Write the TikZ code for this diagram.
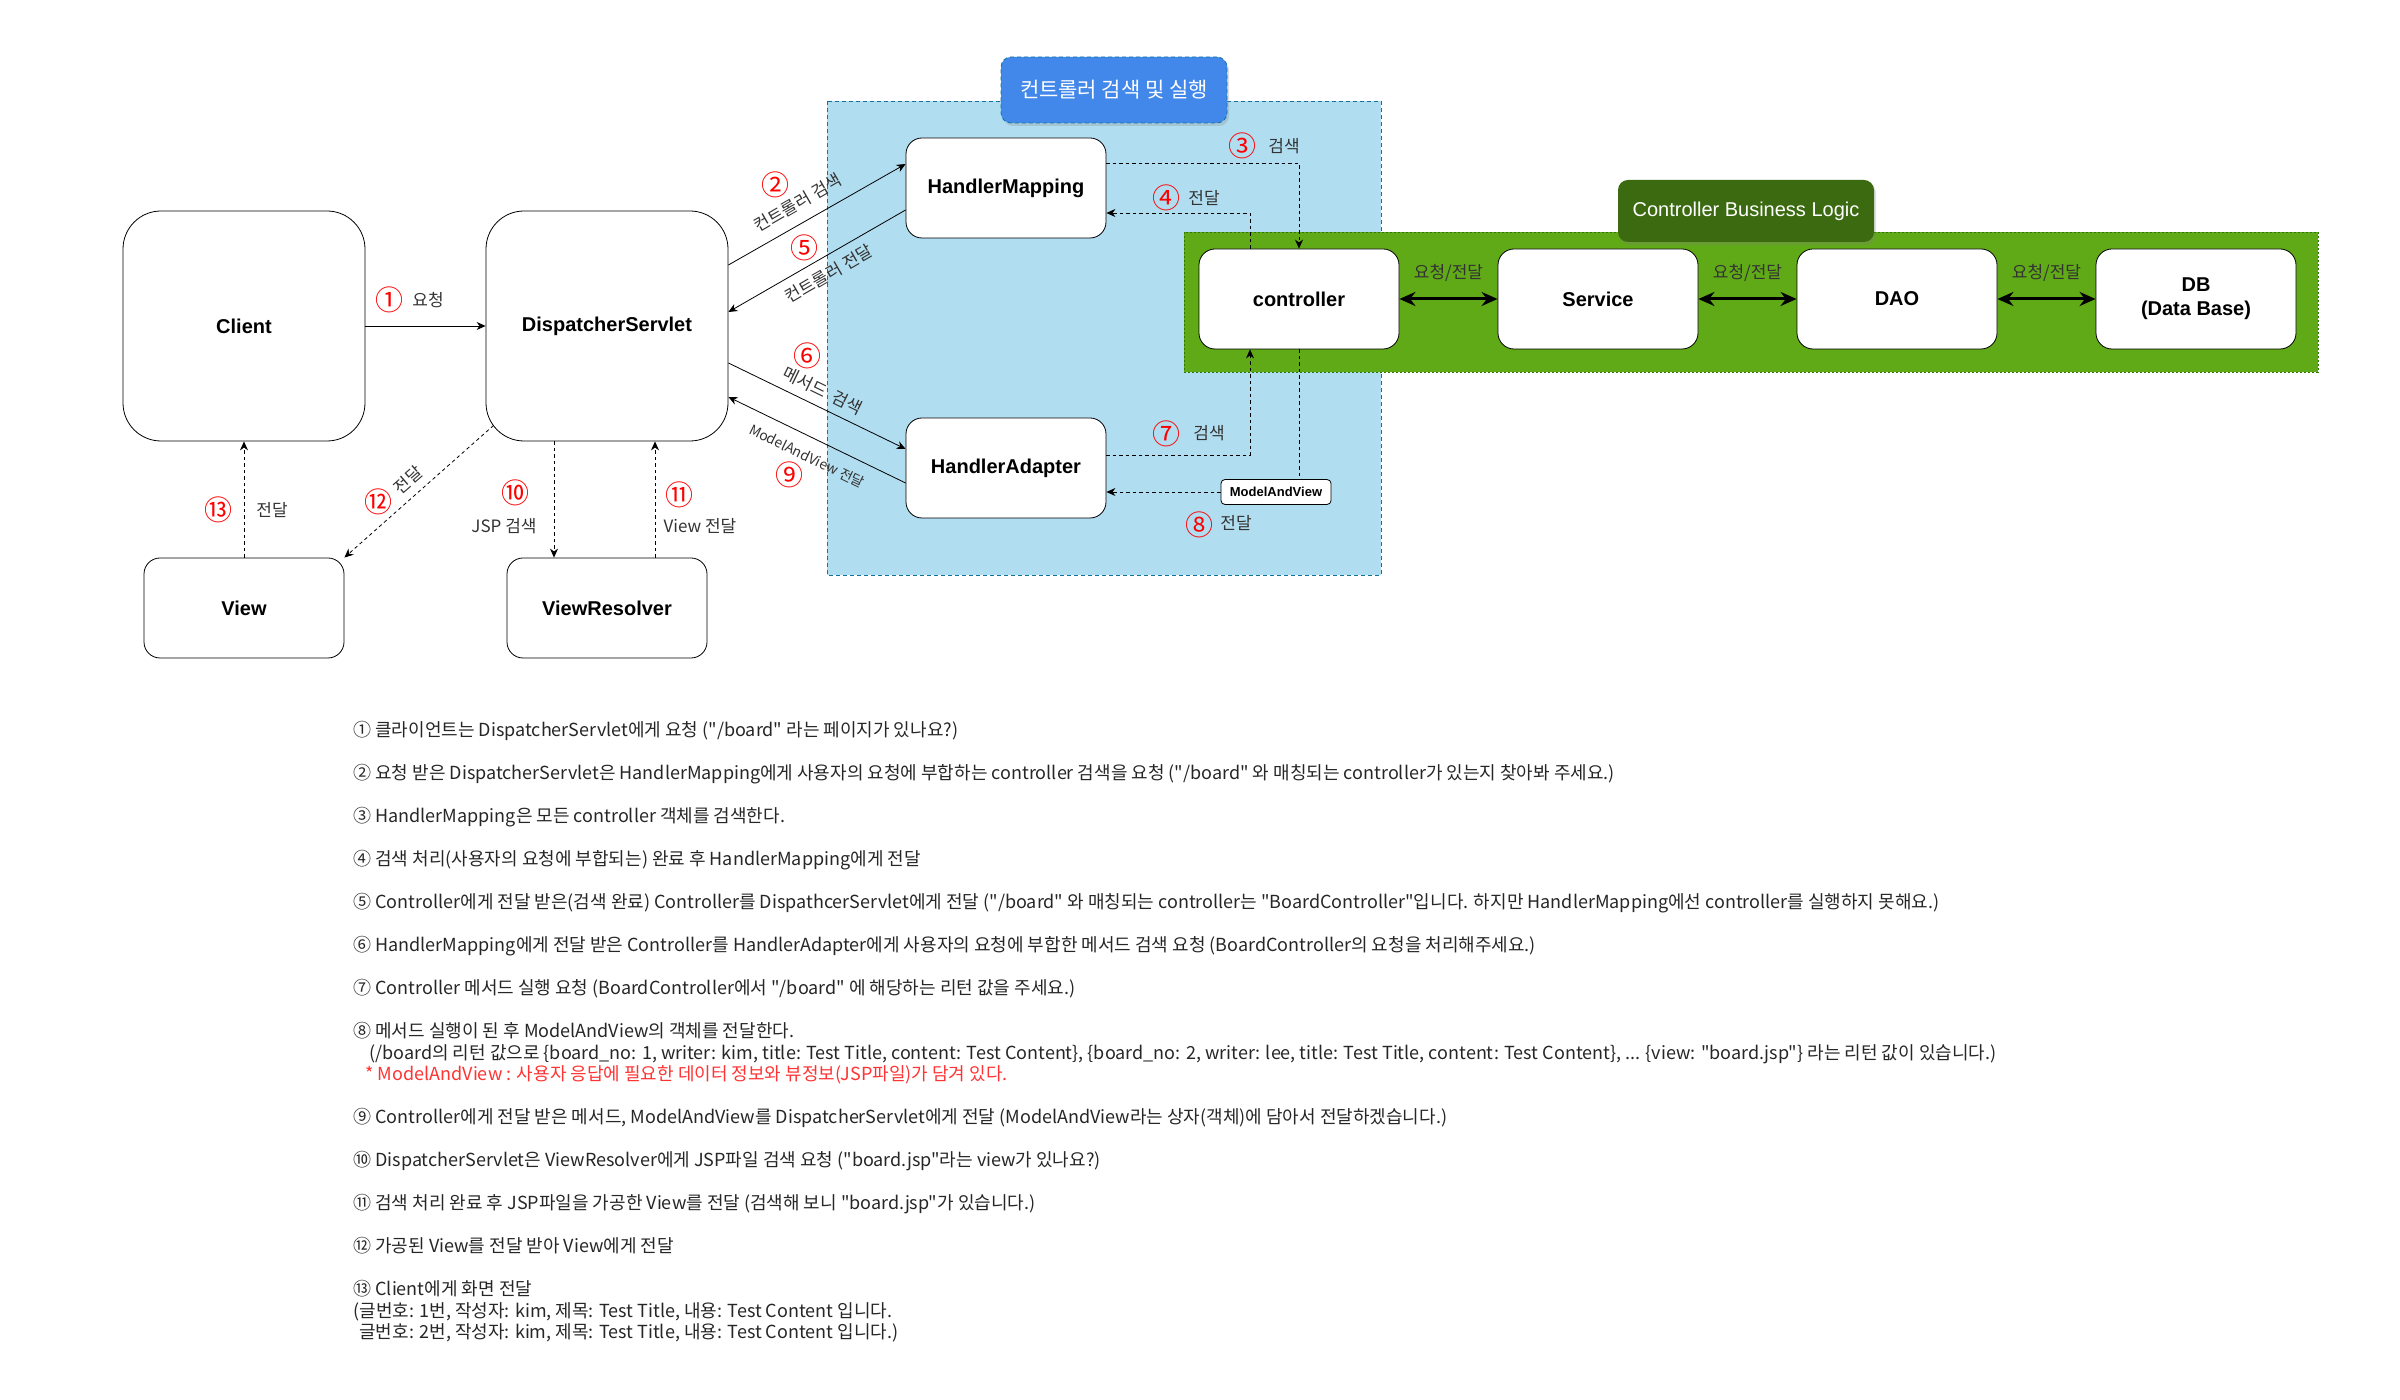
\documentclass[tikz,border=0pt]{standalone}
\usepackage{fontspec}
\setmainfont{Noto Sans CJK KR}[Ligatures=TeXOff]
\newfontfamily\latinfont{Liberation Sans}
\usepackage{tikz}
\usetikzlibrary{positioning,arrows.meta,shadows}

\definecolor{bluebg}{HTML}{B1DDF0}
\definecolor{blueline}{HTML}{10739E}
\definecolor{bluetitle}{HTML}{4288EA}
\definecolor{greenbg}{HTML}{60A917}
\definecolor{greenline}{HTML}{2D7600}
\definecolor{greentitle}{HTML}{3B6A11}
\definecolor{notered}{HTML}{FF3333}

\tikzset{
    state/.style={
           rectangle,
           rounded corners=8pt,
           draw=black, thin,
           fill=white,
           minimum width=100pt,
           minimum height=50pt,
           inner sep=2pt,
           text centered,
           font=\latinfont\bfseries\fontsize{10}{12}\selectfont,
           },
    bigstate/.style={
           state,
           rounded corners=19pt,
           minimum width=121pt,
           minimum height=115pt,
           },
    mavstate/.style={
           state,
           rounded corners=2pt,
           minimum width=55pt,
           minimum height=12.5pt,
           inner sep=1pt,
           font=\latinfont\bfseries\fontsize{6.5}{7}\selectfont,
           },
    areatitle/.style={
           rectangle,
           rounded corners=5pt,
           minimum width=113pt,
           minimum height=33pt,
           text=white,
           font=\fontsize{10.5}{12}\selectfont,
           drop shadow={opacity=0.25, shadow xshift=1pt, shadow yshift=-1.5pt},
           },
    bluearea/.style={fill=bluebg, draw=blueline, thin, dash pattern=on 2pt off 1.5pt},
    greenarea/.style={fill=greenbg, draw=greenline, thin, dash pattern=on 1pt off 1pt},
    num/.style={text=red, inner sep=0pt, font=\fontsize{14}{14}\selectfont},
    tag/.style={text=black!80, inner sep=1pt, font=\fontsize{8.5}{10}\selectfont},
    req/.style={->, thin},
    dotline/.style={thin, dash pattern=on 1.75pt off 1.5pt},
    dotreq/.style={dotline, ->},
    duplex/.style={<->, line width=1.5pt, >={Stealth[length=8pt,width=7pt]}},
    notes/.style={align=left, inner sep=0pt, text=black!85,
           font=\fontsize{9}{10.75}\selectfont},
}

\begin{document}
\begin{tikzpicture}[x=0.5pt, y=-0.5pt, >={Stealth[length=4.5pt,width=4pt]}]
    \useasboundingbox (0,0) rectangle (2400,1400);

    % area: search and run the controller
    \draw[bluearea] (827,101) rectangle (1381,575);
    \node[areatitle, fill=bluetitle, draw=blueline, dash pattern=on 2pt off 1.5pt] (searcharea) at (1114,90) {컨트롤러 검색 및 실행};

    % area: business logic behind the controller
    \draw[greenarea] (1184,232) rectangle (2318,372);
    \node[areatitle, fill=greentitle, minimum width=128pt, minimum height=31pt,
    font=\latinfont\fontsize{10}{12}\selectfont] (logicarea) at (1746,211) {Controller Business Logic};

    % components
    \node[bigstate] (client) at (244,326) {Client};
    \node[bigstate,
    right of=client,
    node distance=181.5pt] (dispatcher) {DispatcherServlet};
    \node[state,
    below of=client,
    node distance=141pt] (view) {View};
    \node[state,
    below of=dispatcher,
    node distance=141pt] (resolver) {ViewResolver};
    \node[state] (mapping) at (1006,188) {HandlerMapping};
    \node[state,
    below of=mapping,
    node distance=140pt] (adapter) {HandlerAdapter};
    \node[state] (controller) at (1299,299) {controller};
    \node[state, right of=controller, node distance=149.5pt] (service) {Service};
    \node[state, right of=service, node distance=149.5pt] (dao) {DAO};
    \node[state, right of=dao, node distance=149.5pt, align=center] (db) {DB\\(Data Base)};
    \node[mavstate] (mav) at (1276,492) {ModelAndView};

    % solid requests and replies
    \path
        (client) edge[req] (dispatcher)
        ([yshift=30.5pt]dispatcher.east) edge[req] ([yshift=12pt]mapping.west)
        ([yshift=-11pt]mapping.west) edge[req] ([yshift=7pt]dispatcher.east)
        ([yshift=-18.5pt]dispatcher.east) edge[req] ([yshift=9.5pt]adapter.west)
        ([yshift=-7.5pt]adapter.west) edge[req] ([yshift=-35.5pt]dispatcher.east)
        (controller) edge[duplex] node[tag, above=7pt] (ask1) {요청/전달} (service)
        (service) edge[duplex] node[tag, above=7pt] (ask2) {요청/전달} (dao)
        (dao) edge[duplex] node[tag, above=7pt] (ask3) {요청/전달} (db)
        ;

    % dashed requests and replies
    \draw[dotreq] ([yshift=12.5pt]mapping.east) -| (controller.north);
    \draw[dotreq] ([xshift=-24.5pt]controller.north) |- ([yshift=-12.5pt]mapping.east);
    \draw[dotreq] ([yshift=6.5pt]adapter.east) -| ([xshift=-24.5pt]controller.south);
    \draw[dotline] (controller.south) -- (controller.south |- mav.north);
    \draw[dotreq] (mav.west) -- (mav.west -| adapter.east);
    \draw[dotreq] ([xshift=-26.5pt]dispatcher.south) -- ([xshift=-26.5pt]resolver.north);
    \draw[dotreq] ([xshift=24pt]resolver.north) -- ([xshift=24pt]dispatcher.south);
    \draw[dotreq] ([xshift=4pt,yshift=8pt]dispatcher.south west) -- (view.north east);
    \draw[dotreq] (view) -- (client);

    % step numbers and texts
    \node[num] (n1) at (389,300) {①};
    \node[tag] (t1) at (428,300) {요청};
    \node[num] (n2) at (775,185) {②};
    \node[tag, rotate=30] (t2) at (798,203) {컨트롤러 검색};
    \node[num] (n3) at (1242,146) {③};
    \node[tag] (t3) at (1284,146) {검색};
    \node[num] (n4) at (1166,198) {④};
    \node[tag] (t4) at (1204,198) {전달};
    \node[num] (n5) at (804,248) {⑤};
    \node[tag, rotate=30] (t5) at (829,274) {컨트롤러 전달};
    \node[num] (n6) at (807,356) {⑥};
    \node[tag, rotate=-26] (t6) at (823,391) {메서드~~검색};
    \node[num] (n7) at (1166,434) {⑦};
    \node[tag] (t7) at (1209,433) {검색};
    \node[num] (n8) at (1199,525) {⑧};
    \node[tag] (t8) at (1236,523) {전달};
    \node[num] (n9) at (789,475) {⑨};
    \node[tag, rotate=-26, font=\fontsize{7}{8}\selectfont] (t9) at (807,456) {ModelAndView 전달};
    \node[num] (n10) at (515,493) {⑩};
    \node[tag] (t10) at (504,526) {JSP 검색};
    \node[num] (n11) at (679,495) {⑪};
    \node[tag] (t11) at (700,526) {View 전달};
    \node[num] (n12) at (378,502) {⑫};
    \node[tag, rotate=41] (t12) at (408,480) {전달};
    \node[num] (n13) at (218,510) {⑬};
    \node[tag] (t13) at (272,510) {전달};

    % explanation of the steps
    \node[notes, anchor=north west] (steps) at (353,721) {%
    ① 클라이언트는 DispatcherServlet에게 요청 ("/board" 라는 페이지가 있나요?)\\[10.75pt]
    ② 요청 받은 DispatcherServlet은 HandlerMapping에게 사용자의 요청에 부합하는 controller 검색을 요청 ("/board" 와 매칭되는 controller가 있는지 찾아봐 주세요.)\\[10.75pt]
    ③ HandlerMapping은 모든 controller 객체를 검색한다.\\[10.75pt]
    ④ 검색 처리(사용자의 요청에 부합되는) 완료 후 HandlerMapping에게 전달\\[10.75pt]
    ⑤ Controller에게 전달 받은(검색 완료) Controller를 DispathcerServlet에게 전달 ("/board" 와 매칭되는 controller는 "BoardController"입니다. 하지만 HandlerMapping에선 controller를 실행하지 못해요.)\\[10.75pt]
    ⑥ HandlerMapping에게 전달 받은 Controller를 HandlerAdapter에게 사용자의 요청에 부합한 메서드 검색 요청 (BoardController의 요청을 처리해주세요.)\\[10.75pt]
    ⑦ Controller 메서드 실행 요청 (BoardController에서 "/board" 에 해당하는 리턴 값을 주세요.)\\[10.75pt]
    ⑧ 메서드 실행이 된 후 ModelAndView의 객체를 전달한다.\\
    \hspace*{8pt}(/board의 리턴 값으로 \{board\_no: 1, writer: kim, title: Test Title, content: Test Content\}, \{board\_no: 2, writer: lee, title: Test Title, content: Test Content\}, ... \{view: "board.jsp"\} 라는 리턴 값이 있습니다.)\\
    \hspace*{6pt}{\color{notered}* ModelAndView : 사용자 응답에 필요한 데이터 정보와 뷰정보(JSP파일)가 담겨 있다.}\\[10.75pt]
    ⑨ Controller에게 전달 받은 메서드, ModelAndView를 DispatcherServlet에게 전달 (ModelAndView라는 상자(객체)에 담아서 전달하겠습니다.)\\[10.75pt]
    ⑩ DispatcherServlet은 ViewResolver에게 JSP파일 검색 요청 ("board.jsp"라는 view가 있나요?)\\[10.75pt]
    ⑪ 검색 처리 완료 후 JSP파일을 가공한 View를 전달 (검색해 보니 "board.jsp"가 있습니다.)\\[10.75pt]
    ⑫ 가공된 View를 전달 받아 View에게 전달\\[10.75pt]
    ⑬ Client에게 화면 전달\\
    (글번호: 1번, 작성자: kim, 제목: Test Title, 내용: Test Content 입니다.\\
    \hspace*{3pt}글번호: 2번, 작성자: kim, 제목: Test Title, 내용: Test Content 입니다.)};
\end{tikzpicture}
\end{document}
